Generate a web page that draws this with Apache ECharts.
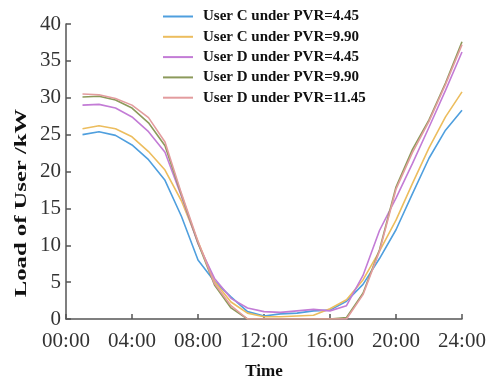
<!DOCTYPE html>
<html>
<head>
<meta charset="utf-8">
<script src="https://cdn.jsdelivr.net/npm/echarts@6/dist/echarts.min.js"></script>
<style>
  html, body { margin: 0; padding: 0; background: #fff; }
  #chart { width: 488px; height: 378px; }
</style>
</head>
<body>
<div id="chart"></div>
<script>
// hours of the day (x values)
const hours = [1, 2, 3, 4, 5, 6, 7, 8, 9, 10, 11, 12, 13, 14, 15, 16, 17, 18, 19, 20, 21, 22, 23, 24];
const xTickLabels = ['00:00', '04:00', '08:00', '12:00', '16:00', '20:00', '24:00'];

const userC445 = [25.0, 25.4, 24.9, 23.6, 21.6, 18.8, 13.9, 8.0, 5.1, 3.0, 1.0, 0.4, 0.7, 0.8, 1.1, 1.2, 2.4, 4.7, 8.2, 12.1, 17.0, 21.8, 25.6, 28.3];
const userC990 = [25.8, 26.2, 25.8, 24.7, 22.7, 20.2, 16.0, 10.5, 5.1, 2.3, 0.8, 0.3, 0.3, 0.4, 0.5, 1.4, 2.6, 5.3, 9.2, 13.4, 18.4, 23.2, 27.4, 30.8];
const userD445 = [29.0, 29.1, 28.6, 27.4, 25.4, 22.6, 16.6, 10.2, 5.5, 2.8, 1.5, 1.0, 0.9, 1.1, 1.3, 1.1, 1.8, 5.9, 12.0, 16.4, 21.1, 26.0, 31.0, 36.2];
const userD990 = [30.1, 30.2, 29.7, 28.6, 26.6, 23.5, 16.8, 10.3, 4.6, 1.5, 0, 0, 0, 0, 0, 0, 0.2, 3.5, 9.4, 17.9, 23.0, 27.0, 32.0, 37.6];
const userD1145 = [30.5, 30.4, 29.9, 29.0, 27.3, 24.0, 17.0, 10.5, 4.8, 1.8, 0, 0, 0, 0, 0, 0, 0, 3.3, 9.2, 17.6, 22.6, 26.8, 31.8, 37.2];

const seriesNames = [
  'User C under PVR=4.45',
  'User C under PVR=9.90',
  'User D under PVR=4.45',
  'User D under PVR=9.90',
  'User D under PVR=11.45'
];
const seriesData = [userC445, userC990, userD445, userD990, userD1145];
const colors = ['#4f9fde', '#ecbd5e', '#c37cd6', '#8c9a5b', '#e39c9e'];

const serif = '"Liberation Serif", "Times New Roman", serif';

const chart = echarts.init(document.getElementById('chart'));

chart.setOption({
  animation: false,
  color: colors,
  grid: { left: 66, right: 26, top: 24, bottom: 59, outerBoundsMode: 'none' },
  legend: {
    orient: 'vertical',
    left: 158,
    top: 4,
    icon: 'rect',
    itemWidth: 30,
    itemHeight: 2,
    itemGap: 5.3,
    textStyle: { fontFamily: serif, fontWeight: 'bold', fontSize: 15, color: '#111', padding: [0, 0, 0, 5] },
    data: seriesNames
  },
  xAxis: {
    type: 'value',
    min: 0,
    max: 24,
    interval: 4,
    name: 'Time',
    nameLocation: 'middle',
    nameGap: 44,
    nameTextStyle: { fontFamily: serif, fontWeight: 'bold', fontSize: 17, color: '#111' },
    axisLine: { lineStyle: { color: '#555', width: 1.5 } },
    axisTick: { inside: true, length: 5, lineStyle: { color: '#555', width: 1.5 } },
    axisLabel: {
      fontFamily: serif, fontSize: 21, color: '#333', margin: 12,
      formatter: v => xTickLabels[v / 4]
    },
    splitLine: { show: false }
  },
  yAxis: {
    type: 'value',
    min: 0,
    max: 40,
    interval: 5,
    axisLine: { show: true, lineStyle: { color: '#555', width: 1.5 } },
    axisTick: { show: true, inside: true, length: 5, lineStyle: { color: '#555', width: 1.5 } },
    axisLabel: { fontFamily: serif, fontSize: 21, color: '#333', margin: 5 },
    splitLine: { show: false }
  },
  graphic: [{
    type: 'text',
    x: 22,
    y: 203,
    rotation: Math.PI / 2,
    scaleX: 1.45,
    style: {
      text: 'Load of User /kW',
      font: 'bold 17px ' + serif,
      fill: '#111',
      align: 'center',
      verticalAlign: 'middle'
    }
  }],
  series: seriesNames.map((name, i) => ({
    name: name,
    type: 'line',
    symbol: 'none',
    lineStyle: { width: 1.6 },
    data: hours.map((h, j) => [h, seriesData[i][j]])
  }))
});
</script>
</body>
</html>
